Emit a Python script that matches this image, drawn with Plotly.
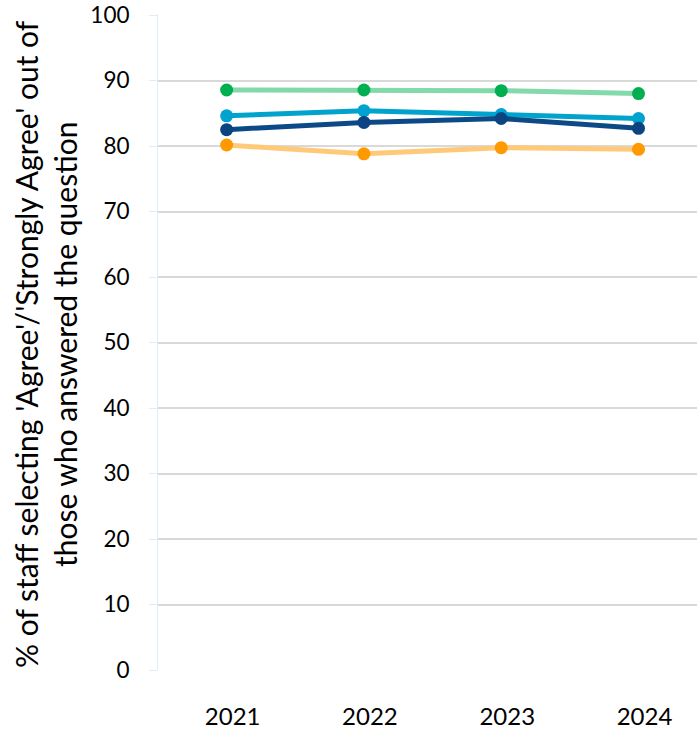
import plotly.graph_objects as go

years = ["2021", "2022", "2023", "2024"]
y_ticks = [0, 10, 20, 30, 40, 50, 60, 70, 80, 90, 100]

series_green = [88.55, 88.55, 88.45, 88.0]
series_lightblue = [84.6, 85.4, 84.8, 84.2]
series_darkblue = [82.5, 83.6, 84.2, 82.7]
series_orange = [80.15, 78.8, 79.75, 79.5]

traces = [
    ("Series A", series_orange, "#FFC97A", "#FF9900"),
    ("Series B", series_green, "#82D9A9", "#00B050"),
    ("Series C", series_lightblue, "#00A3CC", "#00A3D0"),
    ("Series D", series_darkblue, "#0B4A87", "#0B4480"),
]

FONT = "Lato"

fig = go.Figure()
for name, vals, lc, mc in traces:
    fig.add_trace(go.Scatter(
        x=years, y=vals, name=name, mode="lines+markers",
        line=dict(color=lc, width=5),
        marker=dict(color=mc, size=13),
        showlegend=False,
    ))

fig.update_layout(
    width=697, height=731,
    margin=dict(l=158, r=0, t=14, b=61, autoexpand=False),
    paper_bgcolor="white", plot_bgcolor="white",
    font=dict(family=FONT, color="black"),
)

fig.update_xaxes(
    type="category", range=[-0.5, 3.426], automargin=False,
    showgrid=False, zeroline=False, showline=False,
    ticks="", tickfont=dict(size=24, family=FONT, color="black"),
    ticklabelstandoff=30, ticklabelshift=6, ticklabeloverflow="allow",
)
fig.update_yaxes(
    range=[0, 100.153], tickvals=y_ticks, automargin=False,
    showgrid=True, gridcolor="#D9D9D9", gridwidth=2,
    zeroline=False, showline=True, linecolor="#DDEEF8", linewidth=1,
    ticks="outside", ticklen=8, tickcolor="#DDEEF8",
    tickfont=dict(size=22.5, family=FONT, color="black"),
    ticklabelstandoff=15, ticklabeloverflow="allow",
)

fig.add_annotation(
    text="% of staff selecting 'Agree'/'Strongly Agree' out of<br>those who answered the question",
    xref="paper", yref="paper", x=(45 - 158) / 539, y=(670 - 344) / 656,
    xanchor="center", yanchor="middle", textangle=-90, showarrow=False,
    font=dict(size=30, family=FONT, color="black"),
)

# remove the page's default body margin so the figure fills the window exactly
fig.write_html(
    "out.html",
    config={"displayModeBar": False},
    post_script="document.body.style.margin='0px';",
)
